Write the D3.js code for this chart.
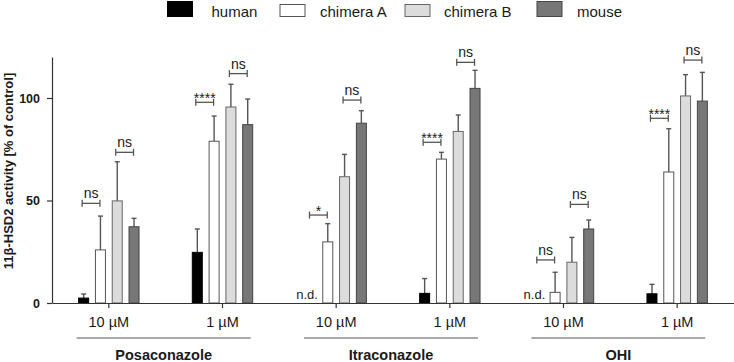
<!DOCTYPE html>
<html>
<head>
<meta charset="utf-8">
<script src="https://cdn.jsdelivr.net/npm/d3@7"></script>
<style>
  html, body { margin: 0; padding: 0; background: #fff; }
  svg { display: block; font-family: Arial, "Liberation Sans", sans-serif; }
</style>
</head>
<body>
<svg id="chart" width="734" height="362"></svg>
<script>
// ---- data ----
const compounds = ["Posaconazole", "Itraconazole", "OHI"];
const concentrations = ["10 µM", "1 µM"];
const series = ["human", "chimera A", "chimera B", "mouse"];
const groupLabels = ["10 µM", "1 µM", "10 µM", "1 µM", "10 µM", "1 µM"];

// mean activity (% of control); null = not determined (n.d.)
const human    = [2.4, 24.7, null, 4.7, null, 4.5];
const chimeraA = [25.9, 78.9, 29.8, 70.2, 5.2, 63.9];
const chimeraB = [49.8, 95.6, 61.6, 83.7, 19.9, 101.0];
const mouse    = [37.2, 87.0, 87.7, 104.7, 36.1, 98.5];

// upper error (SD)
const humanErr    = [2.0, 11.4, null, 7.2, null, 4.6];
const chimeraAErr = [16.5, 12.3, 8.9, 3.3, 9.8, 21.1];
const chimeraBErr = [19.1, 11.1, 10.9, 8.0, 12.1, 10.4];
const mouseErr    = [4.1, 12.5, 6.1, 8.8, 4.4, 14.0];

// significance brackets
const annotGroup = [0, 0, 1, 1, 2, 2, 3, 3, 4, 4, 5, 5];
const annotFrom  = [0, 2, 0, 2, 0, 2, 0, 2, 0, 2, 0, 2];
const annotTo    = [1, 3, 1, 3, 1, 3, 1, 3, 1, 3, 1, 3];
const annotLabel = ["ns", "ns", "****", "ns", "*", "ns", "****", "ns", "ns", "ns", "****", "ns"];
const annotLevel = [48.6, 73.5, 97.9, 111.9, 42.9, 99.0, 78.4, 117.4, 21.0, 48.1, 90.1, 118.5];

const yTicks = [0, 50, 100];

// ---- styles ----
const fills   = ["#000000", "#ffffff", "#dcdcdc", "#777777"];
const strokes = ["#000000", "#555555", "#666666", "#444444"];
const errColor = "#555555";
const textColor = "#1a1a1a";

const values = [human, chimeraA, chimeraB, mouse];
const errors = [humanErr, chimeraAErr, chimeraBErr, mouseErr];

const svg = d3.select("#chart");
const margin = { left: 52, right: 0, top: 57, bottom: 59 };
const W = 734, H = 362;
const groups = d3.range(groupLabels.length);

const x = d3.scaleBand().domain(groups).range([margin.left, W - margin.right]).padding(0);
const xs = d3.scaleBand().domain(d3.range(series.length)).range([-30.7, 30.7]).paddingInner(0.345).paddingOuter(0);
const y = d3.scaleLinear().domain([0, 120]).range([H - margin.bottom, margin.top]);

const cx = g => x(g) + x.bandwidth() / 2;

// ---- bars ----
const barData = [];
groups.forEach(g => series.forEach((s, si) => {
  barData.push({ g, si, v: values[si][g], e: errors[si][g] });
}));

const barsG = svg.append("g");
// error bars (drawn first, behind bars)
barsG.selectAll("g.err").data(barData.filter(d => d.v != null)).join("g").attr("class", "err")
  .each(function(d) {
    const gx = cx(d.g) + xs(d.si) + xs.bandwidth() / 2;
    const sel = d3.select(this);
    sel.append("line").attr("x1", gx).attr("x2", gx)
      .attr("y1", y(d.v)).attr("y2", y(d.v + d.e))
      .attr("stroke", errColor).attr("stroke-width", 1.4);
    sel.append("line").attr("x1", gx - 2.5).attr("x2", gx + 2.5)
      .attr("y1", y(d.v + d.e)).attr("y2", y(d.v + d.e))
      .attr("stroke", errColor).attr("stroke-width", 1.4);
  });

barsG.selectAll("rect.bar").data(barData.filter(d => d.v != null)).join("rect").attr("class", "bar")
  .attr("x", d => cx(d.g) + xs(d.si) + 0.5)
  .attr("width", xs.bandwidth() - 1)
  .attr("y", d => y(d.v))
  .attr("height", d => y(0) - y(d.v))
  .attr("fill", d => fills[d.si])
  .attr("stroke", d => strokes[d.si])
  .attr("stroke-width", 1);

// n.d. labels
svg.selectAll("text.nd").data(barData.filter(d => d.v == null)).join("text").attr("class", "nd")
  .attr("x", d => cx(d.g) + xs(d.si) + xs.bandwidth() + 1.5)
  .attr("y", y(0) - 4)
  .attr("text-anchor", "end")
  .attr("font-size", "13px")
  .attr("fill", textColor)
  .text("n.d.");

// ---- significance brackets ----
const annG = svg.append("g");
annotGroup.forEach((g, i) => {
  const x1 = cx(g) + xs(annotFrom[i]) + xs.bandwidth() / 2 - 1.5;
  const x2 = cx(g) + xs(annotTo[i]) + xs.bandwidth() / 2 - 0.5;
  const yy = y(annotLevel[i]);
  const a = annG.append("g").attr("stroke", errColor).attr("stroke-width", 1.3);
  a.append("line").attr("x1", x1).attr("x2", x2).attr("y1", yy).attr("y2", yy);
  a.append("line").attr("x1", x1).attr("x2", x1).attr("y1", yy - 3.5).attr("y2", yy + 3.5);
  a.append("line").attr("x1", x2).attr("x2", x2).attr("y1", yy - 3.5).attr("y2", yy + 3.5);
  const isStar = annotLabel[i].startsWith("*");
  annG.append("text")
    .attr("x", (x1 + x2) / 2)
    .attr("y", isStar ? yy + 1 : yy - 5)
    .attr("text-anchor", "middle")
    .attr("font-size", "14px")
    .attr("fill", textColor)
    .text(annotLabel[i]);
});

// ---- axes ----
const yAxis = svg.append("g").attr("transform", `translate(${margin.left},0)`)
  .call(d3.axisLeft(y).tickValues(yTicks).tickSize(5).tickSizeOuter(0).tickPadding(7));
yAxis.select(".domain").attr("stroke", "#333").attr("stroke-width", 1.2);
yAxis.selectAll(".tick line").attr("stroke", "#333").attr("stroke-width", 1.2);
yAxis.selectAll(".tick text").attr("font-size", "12.5px").attr("font-weight", "bold")
  .attr("font-family", "Arial, 'Liberation Sans', sans-serif").attr("fill", textColor);

const xAxis = svg.append("g").attr("transform", `translate(0,${y(0)})`)
  .call(d3.axisBottom(x).tickFormat(i => groupLabels[i]).tickSize(5).tickSizeOuter(0));
xAxis.select(".domain").attr("stroke", "#333").attr("stroke-width", 1.2);
xAxis.selectAll(".tick line").attr("stroke", "#333").attr("stroke-width", 1.2);
xAxis.selectAll(".tick text").attr("font-size", "14.5px").attr("y", 14).attr("dy", "0.71em")
  .attr("font-family", "Arial, 'Liberation Sans', sans-serif").attr("fill", textColor);

// compound group labels
compounds.forEach((c, ci) => {
  const mid = (cx(ci * 2) + cx(ci * 2 + 1)) / 2 - 2;
  svg.append("line").attr("x1", mid - 87).attr("x2", mid + 87)
    .attr("y1", 338).attr("y2", 338).attr("stroke", "#555").attr("stroke-width", 1.2);
  svg.append("text").attr("x", mid).attr("y", 360).attr("text-anchor", "middle")
    .attr("font-size", "14.5px").attr("font-weight", "bold").attr("fill", textColor)
    .text(c);
});

// y axis title
svg.append("text")
  .attr("transform", `translate(12.5,171) rotate(-90)`)
  .attr("text-anchor", "middle")
  .attr("font-size", "13px").attr("font-weight", "bold").attr("fill", textColor)
  .text("11β-HSD2 activity [% of control]");

// ---- legend ----
const legendX = [167, 279.5, 404.5, 536.5];
const legendTextX = [211.5, 320, 444, 577];
const leg = svg.append("g");
series.forEach((s, i) => {
  const tall = (i === 0 || i === 3);
  leg.append("rect")
    .attr("x", legendX[i] + 0.5).attr("y", tall ? 1.5 : 4.5)
    .attr("width", 25).attr("height", tall ? 15 : 12)
    .attr("fill", fills[i]).attr("stroke", strokes[i]).attr("stroke-width", 1);
  leg.append("text").attr("x", legendTextX[i]).attr("y", 17)
    .attr("font-size", "15px").attr("fill", textColor).text(s);
});
</script>
</body>
</html>
